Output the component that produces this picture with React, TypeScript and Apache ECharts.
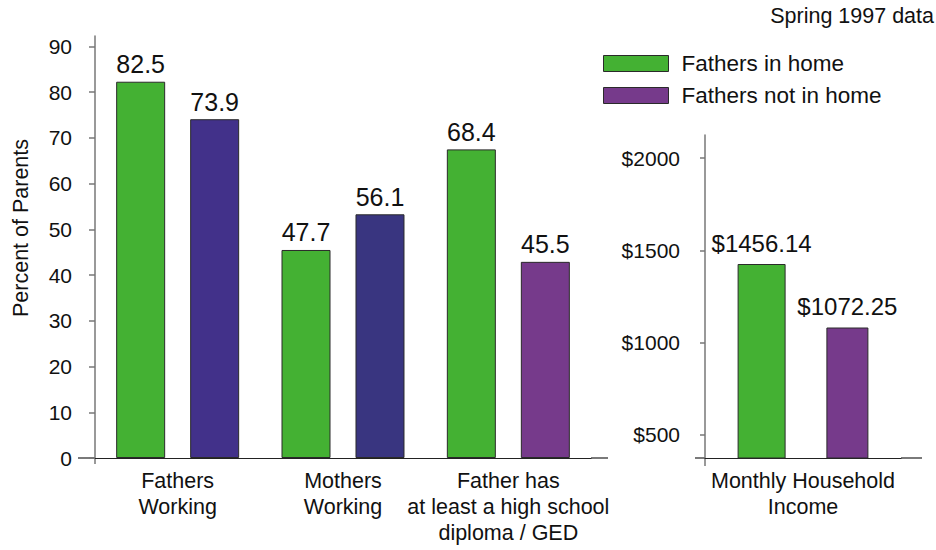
import React, { useEffect, useRef } from 'react';
import * as echarts from 'echarts';

// ---- data ----
const seriesNames = ['Fathers in home', 'Fathers not in home'];
const categories = ['Fathers\nWorking', 'Mothers\nWorking', 'Father has\nat least a high school\ndiploma / GED'];
const inHomeBars = [82.3, 45.5, 67.5];
const notInHomeBars = [74.1, 53.3, 42.9];
const inHomeLabels = ['82.5', '47.7', '68.4'];
const notInHomeLabels = ['73.9', '56.1', '45.5'];
const percentTicks = [0, 10, 20, 30, 40, 50, 60, 70, 80, 90];

const incomeCategory = ['Monthly Household\nIncome'];
const incomeInHome = [1426];
const incomeNotInHome = [1082];
const incomeInHomeLabels = ['$1456.14'];
const incomeNotInHomeLabels = ['$1072.25'];
const incomeTicks = [500, 1000, 1500, 2000];

const titleText = 'Spring 1997 data';
const yAxisTitle = 'Percent of Parents';

// ---- styles ----
const FONT = 'Liberation Sans, Arial, Helvetica, sans-serif';
const TXT = '#111';
const GREEN = '#44b133';
const PURPLE = '#763a8b';
const BLUES = ['#42318a', '#393580'];
const BORDER = '#2a2a2a';
const YAXIS = '#777';
const XAXIS = '#222';

export default function App() {
  const ref = useRef<HTMLDivElement>(null);
  useEffect(() => {
    if (!ref.current) return;
    const chart = echarts.init(ref.current, undefined, { renderer: 'svg' });
    const valueLabel = (arr: string[], dist: number, size: number) => ({
      show: true,
      position: 'top',
      distance: dist,
      fontSize: size,
      color: TXT,
      fontFamily: FONT,
      formatter: (p: any) => arr[p.dataIndex],
    });
    const catLabel = { interval: 0, fontSize: 21.5, lineHeight: 26, color: TXT, margin: 10, fontFamily: FONT };
    const option: any = {
      animation: false,
      backgroundColor: '#fff',
      textStyle: { fontFamily: FONT, color: TXT },
      title: {
        text: titleText,
        right: -3,
        top: 0,
        textStyle: { fontSize: 21.5, fontWeight: 'normal', color: TXT, fontFamily: FONT },
      },
      legend: {
        data: seriesNames,
        orient: 'vertical',
        left: 598,
        top: 47,
        itemWidth: 65,
        itemHeight: 16,
        itemGap: 9,
        icon: 'rect',
        itemStyle: { borderColor: BORDER, borderWidth: 1 },
        textStyle: { fontSize: 22.5, color: TXT, fontFamily: FONT, padding: [0, 0, 0, 8] },
      },
      grid: [
        { left: 95, top: 36, width: 496, height: 422 },
        { left: 705, top: 135, width: 196, height: 323 },
      ],
      xAxis: [
        {
          type: 'category',
          gridIndex: 0,
          data: categories,
          axisTick: { show: false },
          axisLine: { lineStyle: { color: XAXIS, width: 1.2 } },
          axisLabel: catLabel,
        },
        {
          type: 'category',
          gridIndex: 1,
          data: incomeCategory,
          axisTick: { show: false },
          axisLine: { lineStyle: { color: XAXIS, width: 1.2 } },
          axisLabel: catLabel,
        },
      ],
      yAxis: [
        {
          type: 'value',
          gridIndex: 0,
          min: 0,
          max: 92.3,
          splitLine: { show: false },
          axisLine: { show: true, lineStyle: { color: YAXIS, width: 1.5 } },
          axisTick: { show: true, length: 6, customValues: percentTicks, lineStyle: { color: YAXIS, width: 1.5 } },
          axisLabel: { customValues: percentTicks, fontSize: 21, color: TXT, margin: 23, fontFamily: FONT },
        },
        {
          type: 'value',
          gridIndex: 1,
          min: 375,
          max: 2125,
          splitLine: { show: false },
          axisLine: { show: true, lineStyle: { color: YAXIS, width: 1.5 } },
          axisTick: { show: true, length: 5, customValues: incomeTicks, lineStyle: { color: YAXIS, width: 1.5 } },
          axisLabel: {
            customValues: incomeTicks,
            fontSize: 21,
            color: TXT,
            margin: 25,
            fontFamily: FONT,
            formatter: (v: number) => '$' + v,
          },
        },
      ],
      graphic: [
        {
          type: 'text',
          x: 21,
          y: 228,
          rotation: Math.PI / 2,
          style: { text: yAxisTitle, fontSize: 21.5, fill: TXT, fontFamily: FONT, textAlign: 'center', textVerticalAlign: 'middle' },
        },
        { type: 'line', shape: { x1: 78, y1: 458, x2: 95, y2: 458 }, style: { stroke: XAXIS, lineWidth: 1.2 } },
        { type: 'line', shape: { x1: 591, y1: 458, x2: 608, y2: 458 }, style: { stroke: XAXIS, lineWidth: 1.2 } },
        { type: 'line', shape: { x1: 95, y1: 458, x2: 95, y2: 464 }, style: { stroke: YAXIS, lineWidth: 1.5 } },
        { type: 'line', shape: { x1: 695, y1: 458, x2: 705, y2: 458 }, style: { stroke: XAXIS, lineWidth: 1.2 } },
        { type: 'line', shape: { x1: 901, y1: 458, x2: 922, y2: 458 }, style: { stroke: XAXIS, lineWidth: 1.2 } },
        { type: 'line', shape: { x1: 705, y1: 458, x2: 705, y2: 466 }, style: { stroke: YAXIS, lineWidth: 1.5 } },
      ],
      series: [
        {
          name: seriesNames[0],
          type: 'bar',
          xAxisIndex: 0,
          yAxisIndex: 0,
          barWidth: 49,
          barGap: '51%',
          data: inHomeBars,
          itemStyle: { color: GREEN, borderColor: BORDER, borderWidth: 1 },
          label: valueLabel(inHomeLabels, 5, 25),
        },
        {
          name: seriesNames[1],
          type: 'bar',
          xAxisIndex: 0,
          yAxisIndex: 0,
          barWidth: 49,
          barGap: '51%',
          data: notInHomeBars.map((v, i) => (i < BLUES.length ? { value: v, itemStyle: { color: BLUES[i] } } : v)),
          itemStyle: { color: PURPLE, borderColor: BORDER, borderWidth: 1 },
          label: valueLabel(notInHomeLabels, 5, 25),
        },
        {
          name: seriesNames[0],
          type: 'bar',
          xAxisIndex: 1,
          yAxisIndex: 1,
          barWidth: 48,
          barGap: '85%',
          data: incomeInHome,
          itemStyle: { color: GREEN, borderColor: BORDER, borderWidth: 1 },
          label: valueLabel(incomeInHomeLabels, 9, 24),
        },
        {
          name: seriesNames[1],
          type: 'bar',
          xAxisIndex: 1,
          yAxisIndex: 1,
          barWidth: 42,
          barGap: '85%',
          data: incomeNotInHome,
          itemStyle: { color: PURPLE, borderColor: BORDER, borderWidth: 1 },
          label: valueLabel(incomeNotInHomeLabels, 9, 24),
        },
      ],
    };
    chart.setOption(option);
    return () => chart.dispose();
  }, []);
  return (
    <div
      ref={ref}
      style={{ position: 'fixed', left: 0, top: 0, width: 936, height: 550, background: '#fff' }}
    />
  );
}
